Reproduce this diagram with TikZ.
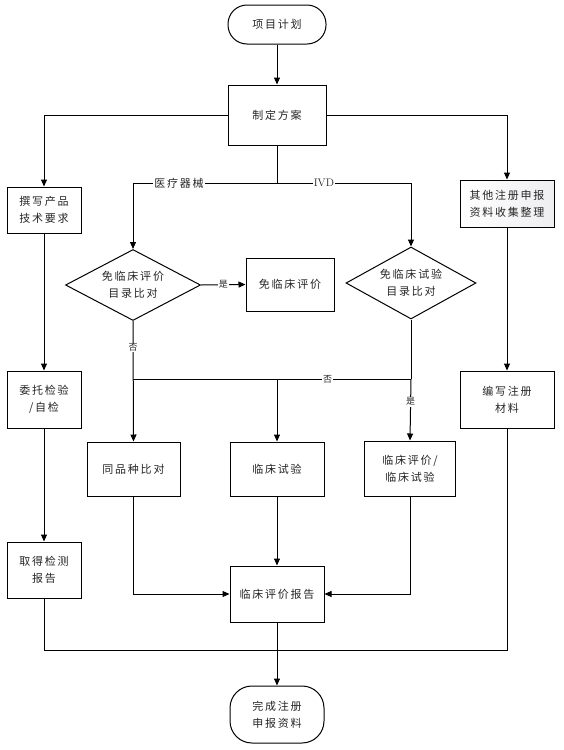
\documentclass[tikz,border=0pt]{standalone}
\usepackage{fontspec}
\newfontfamily\cjk[LetterSpace=16]{Noto Sans CJK SC}
\usetikzlibrary{arrows.meta,shapes.geometric}
\begin{document}
\begin{tikzpicture}[x=1pt,y=-1pt,
  line width=1pt,
  base/.style={draw, line width=1pt, inner sep=0pt, align=center, text=black!85,
    font=\cjk\fontsize{11}{17}\selectfont},
  boxn/.style={base, rectangle},
  term/.style={base, rectangle, rounded corners=19pt},
  dia/.style={base, diamond, aspect=1.9},
  arr/.style={-{Triangle[length=7pt,width=6pt]}},
  lbl/.style={fill=white, inner sep=1pt, text=black!85, font=\cjk\fontsize{11}{13}\selectfont},
  slbl/.style={fill=white, inner sep=1pt, text=black!85, font=\cjk\fontsize{9}{10}\selectfont}]
\useasboundingbox (0,0) rectangle (563,750);
\fill[white] (0,0) rectangle (563,750);

\node[term, minimum width=98pt, minimum height=39pt] (start) at (277,24.5) {项目计划};
\node[boxn, minimum width=98pt, minimum height=60pt] (plan) at (277,115) {制定方案};
\node[boxn, minimum width=74pt, minimum height=46pt] (tech) at (44,210) {撰写产品\\技术要求};
\node[boxn, minimum width=94pt, minimum height=47pt, shading angle=135, left color=white, right color=blue!10!gray!12!white] (other) at (507,203.5) {其他注册申报\\资料收集整理};
\node[dia, minimum width=135pt, minimum height=71pt] (d1) at (133,285) {免临床评价\\目录比对};
\node[dia, minimum width=130pt, minimum height=72pt] (d2) at (411,283) {免临床试验\\目录比对};
\node[boxn, minimum width=88pt, minimum height=53pt] (free) at (290,284.5) {免临床评价};
\node[boxn, minimum width=74pt, minimum height=57pt] (entrust) at (44,399.5) {委托检验\\/自检};
\node[boxn, minimum width=94pt, minimum height=57pt] (write) at (507,399.5) {编写注册\\材料};
\node[boxn, minimum width=93pt, minimum height=54pt] (same) at (133.5,469) {同品种比对};
\node[boxn, minimum width=94pt, minimum height=54pt] (clin) at (277,469) {临床试验};
\node[boxn, minimum width=91pt, minimum height=55pt] (both) at (410,468.5) {临床评价/\\临床试验};
\node[boxn, minimum width=74pt, minimum height=56pt] (obtain) at (44,570) {取得检测\\报告};
\node[boxn, minimum width=94pt, minimum height=56pt] (report) at (277,594) {临床评价报告};
\node[term, rounded corners=22pt, minimum width=94pt, minimum height=57pt] (final) at (277,714.5) {完成注册\\申报资料};

\coordinate (j1) at (277,183);
\coordinate (j2) at (133,379);
\coordinate (j3) at (411,379);
\coordinate (m) at (277,650);

\draw[arr] (start) -- (plan);
\draw[arr] (plan.west) -| (tech.north);
\draw[arr] (plan.east) -| (other.north);
\draw (plan.south) -- (j1);
\draw[arr] (j1) -| node[lbl, pos=0.34] (lmed) {医疗器械} (d1.north);
\draw[arr] (j1) -| node[lbl, pos=0.175, font=\fontsize{11}{13}\selectfont] (livd) {IVD} (d2.north);
\draw[arr] (d1.east) -- node[slbl] (lyes1) {是} (free.west);
\draw[arr] (d1.south) -- node[slbl, pos=0.22] (lno1) {否} (same.north);
\draw (d2.south) -- (j3);
\draw (j3) -- node[slbl, pos=0.3] (lno2) {否} (j2);
\draw[arr] (clin.north |- j2) -- (clin.north);
\draw[arr] (j3) -- node[slbl, pos=0.37] (lyes2) {是} (both.north);
\draw[arr] (tech) -- (entrust);
\draw[arr] (entrust) -- (obtain);
\draw[arr] (other) -- (write);
\draw[arr] (same.south) |- (report.west);
\draw[arr] (both.south) |- (report.east);
\draw[arr] (clin) -- (report);
\draw (obtain.south) |- (write.south |- m) -- (write.south);
\draw[arr] (report) -- (final);
\end{tikzpicture}
\end{document}
